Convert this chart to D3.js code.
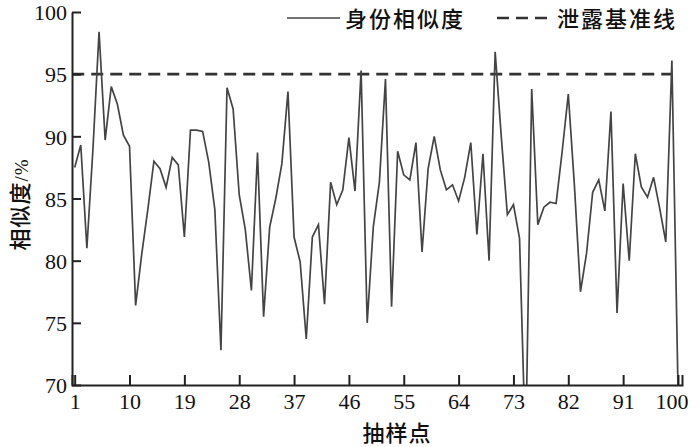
<!DOCTYPE html>
<html>
<head>
<meta charset="utf-8">
<script src="https://cdn.jsdelivr.net/npm/d3@7"></script>
<style>
  body { margin: 0; background: #fff; }
  svg { display: block; }
</style>
</head>
<body>
<div id="chart"></div>
<script>
// similarity values for the 100 sample points
var similarity = [
  87.5, 89.3, 81.0, 89.0, 98.4, 89.7, 94.0, 92.6, 90.1, 89.2,
  76.4, 80.5, 84.1, 88.0, 87.4, 85.9, 88.3, 87.7, 81.9, 90.5,
  90.5, 90.4, 87.9, 84.1, 72.8, 93.9, 92.2, 85.3, 82.5, 77.6,
  88.7, 75.5, 82.7, 85.0, 87.8, 93.6, 81.9, 79.9, 73.7, 81.9,
  82.9, 76.5, 86.3, 84.5, 85.7, 89.9, 85.6, 95.3, 75.0, 82.7,
  86.3, 94.6, 76.3, 88.8, 86.9, 86.5, 89.5, 80.7, 87.4, 90.0,
  87.3, 85.7, 86.1, 84.8, 86.7, 89.5, 82.1, 88.6, 80.0, 96.8,
  90.0, 83.7, 84.5, 81.8, 64.5, 93.8, 82.9, 84.3, 84.7, 84.6,
  88.8, 93.4, 86.1, 77.5, 80.6, 85.5, 86.5, 84.0, 92.0, 75.8,
  86.2, 80.0, 88.6, 85.9, 85.1, 86.7, 84.2, 81.5, 96.1, 69.8
];
var samples = similarity.map(function(d, i) { return i + 1; });
var baseline = 95;
var xTicks = [1, 10, 19, 28, 37, 46, 55, 64, 73, 82, 91, 100];
var yTicks = [70, 75, 80, 85, 90, 95, 100];
var legendNames = ["身份相似度", "泄露基准线"];

// plot box (window.top is taken, so use a margin object)
var width = 700, height = 447;
var box = { left: 72, right: 682, top: 12, bottom: 385 };
var cjk = "'Noto Sans CJK SC', sans-serif";
var serif = "'Liberation Serif', 'DejaVu Serif', serif";

var svg = d3.select("#chart").append("svg")
    .attr("width", width)
    .attr("height", height);

var x = d3.scaleLinear().domain([0.56, 100.66]).range([box.left, box.right]);
var y = d3.scaleLinear().domain([70, 100]).range([box.bottom, box.top]);

svg.append("defs").append("clipPath")
    .attr("id", "plot-clip")
  .append("rect")
    .attr("x", box.left).attr("y", box.top - 5)
    .attr("width", box.right - box.left).attr("height", box.bottom - box.top + 5);

// baseline (dashed)
svg.append("line")
    .attr("x1", x(0.6)).attr("x2", x(99))
    .attr("y1", y(baseline)).attr("y2", y(baseline))
    .attr("stroke", "#333")
    .attr("stroke-width", 2.6)
    .attr("stroke-dasharray", "12,7");

// similarity line
var line = d3.line()
    .x(function(d, i) { return x(samples[i]); })
    .y(function(d) { return y(d); });

svg.append("path")
    .datum(similarity)
    .attr("clip-path", "url(#plot-clip)")
    .attr("d", line)
    .attr("fill", "none")
    .attr("stroke", "#444")
    .attr("stroke-width", 1.7)
    .attr("stroke-linejoin", "miter");

// axes, ticks pointing inward
var xAxis = svg.append("g")
    .attr("transform", "translate(0," + box.bottom + ")")
    .call(d3.axisBottom(x).tickValues(xTicks).tickSizeInner(-10).tickSizeOuter(-10).tickPadding(6));

var yAxis = svg.append("g")
    .attr("transform", "translate(" + box.left + ",0)")
    .call(d3.axisLeft(y).tickValues(yTicks).tickSizeInner(-9).tickSizeOuter(0).tickPadding(5));

[xAxis, yAxis].forEach(function(g) {
  g.select(".domain").attr("stroke", "#222").attr("stroke-width", 2);
  g.selectAll(".tick line").attr("stroke", "#222").attr("stroke-width", 2);
  g.selectAll(".tick text")
    .attr("fill", "#111")
    .style("font-family", serif)
    .style("font-size", "22px");
});
xAxis.selectAll(".tick text").attr("dy", "0.8em");
yAxis.selectAll(".tick text").attr("dy", "0.35em");
// last label sits a bit left of its tick in the reference
xAxis.selectAll(".tick text").filter(function(d) { return d === 100; }).attr("dx", "-0.3em");

// axis titles
svg.append("text")
    .attr("x", (box.left + box.right) / 2 + 20)
    .attr("y", 441)
    .attr("text-anchor", "middle")
    .style("font-family", cjk)
    .style("font-size", "22px")
    .style("font-weight", 500)
    .style("letter-spacing", "1px")
    .attr("fill", "#111")
    .text("抽样点");

var yTitle = svg.append("text")
    .attr("transform", "translate(28," + ((box.top + box.bottom) / 2 + 6) + ") rotate(-90)")
    .attr("text-anchor", "middle")
    .style("font-family", cjk)
    .style("font-size", "22px")
    .style("font-weight", 500)
    .style("letter-spacing", "1px")
    .attr("fill", "#111");
yTitle.append("tspan").text("相似度");
yTitle.append("tspan")
    .style("font-family", serif)
    .style("font-size", "19px")
    .style("font-weight", 400)
    .text("/%");

// legend
var legendItems = [
  { name: legendNames[0], x1: 287, x2: 340, dash: null, width: 1.7, color: "#444" },
  { name: legendNames[1], x1: 497, x2: 552, dash: "12,7", width: 2.6, color: "#333" }
];
var legend = svg.selectAll(".legend")
    .data(legendItems)
    .enter().append("g")
    .attr("class", "legend");

legend.append("line")
    .attr("x1", function(d) { return d.x1; })
    .attr("x2", function(d) { return d.x2; })
    .attr("y1", 18).attr("y2", 18)
    .attr("stroke", function(d) { return d.color; })
    .attr("stroke-width", function(d) { return d.width; })
    .attr("stroke-dasharray", function(d) { return d.dash; });

legend.append("text")
    .attr("x", function(d) { return d.x2 + 5; })
    .attr("y", 27)
    .style("font-family", cjk)
    .style("font-size", "22px")
    .style("font-weight", 500)
    .style("letter-spacing", "2px")
    .attr("fill", "#111")
    .text(function(d) { return d.name; });
</script>
</body>
</html>
